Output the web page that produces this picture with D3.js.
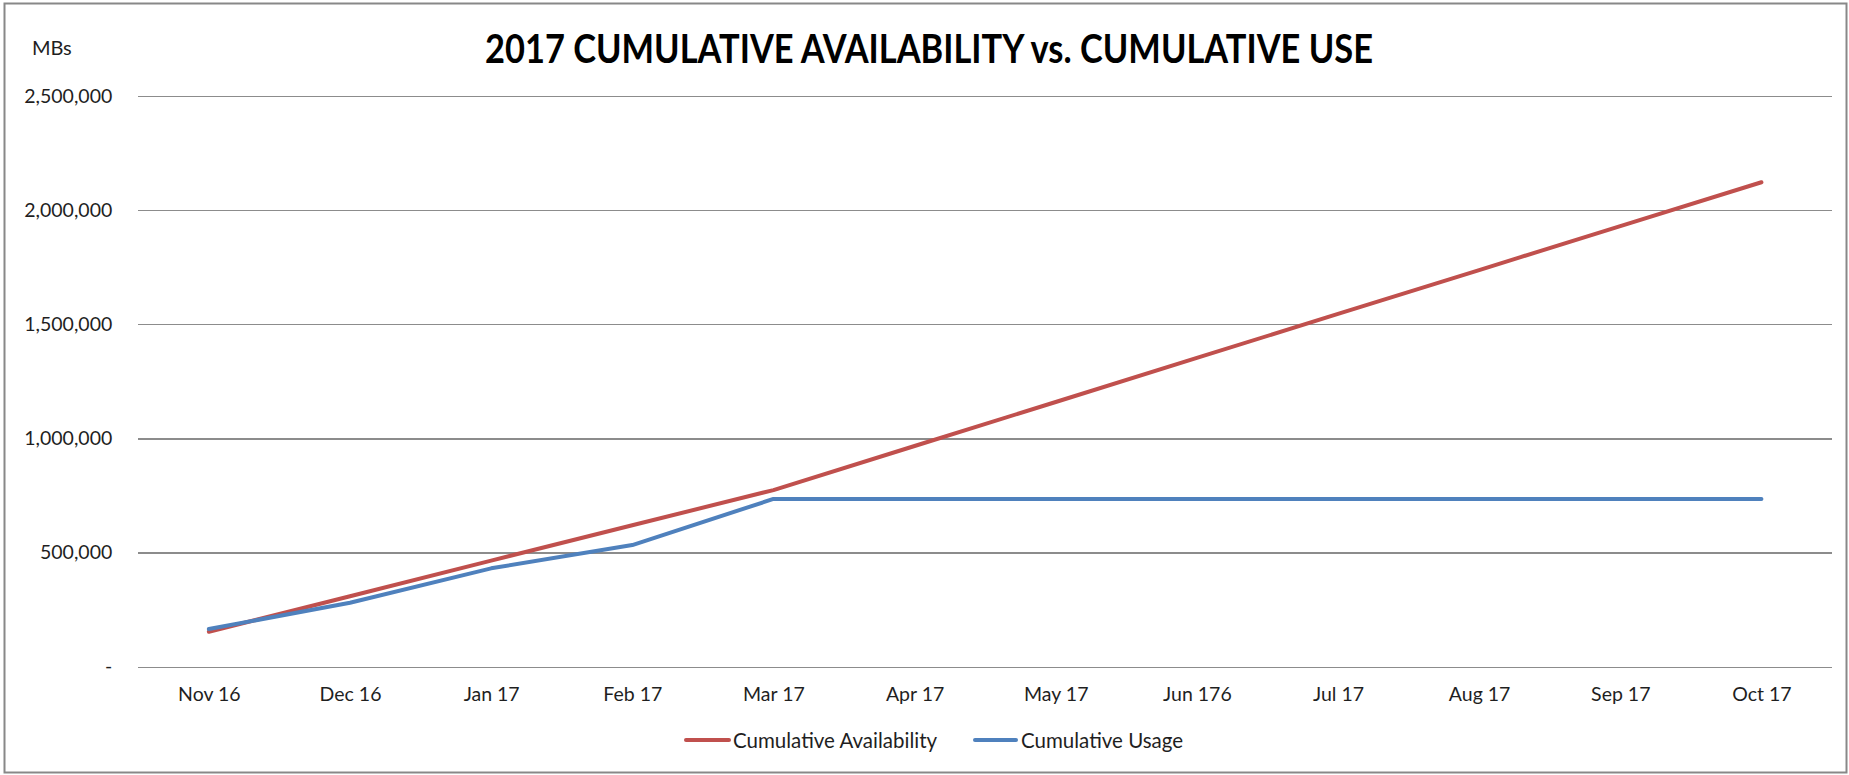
<!DOCTYPE html>
<html>
<head>
<meta charset="utf-8">
<script src="https://cdn.jsdelivr.net/npm/d3@7"></script>
<style>
  html, body { margin: 0; padding: 0; background: #fff; }
  svg { display: block; }
  text { font-family: Lato, "Open Sans", sans-serif; }
</style>
</head>
<body>
<svg id="chart" width="1849" height="775"></svg>
<script>
// ---- Data ----
const months = ["Nov 16", "Dec 16", "Jan 17", "Feb 17", "Mar 17", "Apr 17", "May 17", "Jun 176", "Jul 17", "Aug 17", "Sep 17", "Oct 17"];
const availability = [153000, 309000, 465000, 620000, 774000, 967000, 1160000, 1353000, 1546000, 1738000, 1931000, 2123000];
const usage = [165000, 280000, 431000, 533000, 735000, 735000, 735000, 735000, 735000, 735000, 735000, 735000];
const yTicks = [0, 500000, 1000000, 1500000, 2000000, 2500000];
const seriesNames = ["Cumulative Availability", "Cumulative Usage"];
const titleText = "2017 CUMULATIVE AVAILABILITY vs. CUMULATIVE USE";
const yUnit = "MBs";

// ---- Layout ----
const W = 1849, H = 775;
const plot = { left: 138.3, right: 1832, top: 96.2, bottom: 666.7 };
const colors = ["#C0504D", "#4F81BD"];
const gridColor = "#8c8c8c";
const textColor = "#1f1f1f";

const svg = d3.select("#chart");

// background + border
svg.append("rect").attr("x", 0).attr("y", 0).attr("width", W).attr("height", H).attr("fill", "#fff");
svg.append("rect")
  .attr("x", 4.5).attr("y", 3.5).attr("width", 1842).attr("height", 769)
  .attr("fill", "none").attr("stroke", "#888").attr("stroke-width", 2);

const x = d3.scalePoint().domain(months).range([plot.left, plot.right]).padding(0.5);
const y = d3.scaleLinear().domain([0, 2500000]).range([plot.bottom, plot.top]);

const fmt = d3.format(",");

// Y axis with gridlines
const yAxis = d3.axisLeft(y)
  .tickValues(yTicks)
  .tickSizeInner(-(plot.right - plot.left))
  .tickSizeOuter(0)
  .tickPadding(26)
  .tickFormat(d => d === 0 ? "-" : fmt(d));

const gy = svg.append("g").attr("transform", `translate(${plot.left},0)`).call(yAxis);
gy.select(".domain").remove();
gy.selectAll(".tick line").attr("stroke", gridColor).attr("stroke-width", 1.2).attr("shape-rendering", "crispEdges");
gy.selectAll(".tick text")
  .attr("fill", textColor)
  .style("font-size", "19.5px")
  .style("font-family", "Lato, 'Open Sans', sans-serif");

// X axis labels
const xAxis = d3.axisBottom(x).tickSize(0).tickPadding(0);
const gx = svg.append("g").attr("transform", `translate(0,${plot.bottom})`).call(xAxis);
gx.select(".domain").remove();
gx.selectAll(".tick text")
  .attr("y", 27)
  .attr("dy", "0.35em")
  .attr("fill", textColor)
  .style("font-size", "19.5px")
  .style("font-family", "Lato, 'Open Sans', sans-serif");

// Lines
const line = d3.line().x((d, i) => x(months[i])).y(d => y(d));
[availability, usage].forEach((series, k) => {
  svg.append("path")
    .datum(series)
    .attr("d", line)
    .attr("fill", "none")
    .attr("stroke", colors[k])
    .attr("stroke-width", 4)
    .attr("stroke-linejoin", "round")
    .attr("stroke-linecap", "round");
});

// Title
svg.append("text")
  .attr("x", 929).attr("y", 48)
  .attr("text-anchor", "middle")
  .attr("dominant-baseline", "central")
  .attr("fill", "#000")
  .style("font-family", "Lato, 'Open Sans', sans-serif")
  .style("font-weight", "bold")
  .style("font-size", "40px")
  .attr("textLength", 888)
  .attr("lengthAdjust", "spacingAndGlyphs")
  .text(titleText);

// Unit label
svg.append("text")
  .attr("x", 32).attr("y", 47)
  .attr("dominant-baseline", "central")
  .attr("fill", textColor)
  .style("font-size", "20px")
  .text(yUnit);

// Legend
const legendY = 740;
const legendItems = [
  { x0: 686, x1: 729, tx: 733 },
  { x0: 975, x1: 1016, tx: 1021 }
];
legendItems.forEach((it, k) => {
  svg.append("line")
    .attr("x1", it.x0).attr("x2", it.x1)
    .attr("y1", legendY).attr("y2", legendY)
    .attr("stroke", colors[k]).attr("stroke-width", 4)
    .attr("stroke-linecap", "round");
  svg.append("text")
    .attr("x", it.tx).attr("y", legendY)
    .attr("dominant-baseline", "central")
    .attr("fill", textColor)
    .style("font-size", "20.5px")
    .text(seriesNames[k]);
});
</script>
</body>
</html>
